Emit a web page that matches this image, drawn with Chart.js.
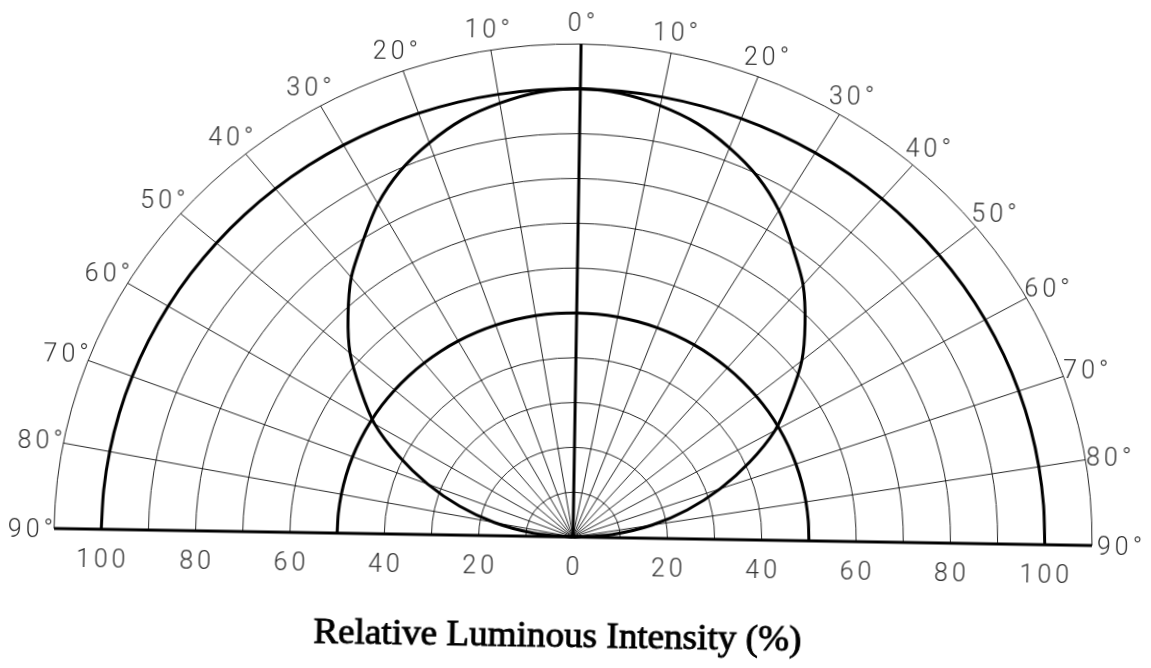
<!DOCTYPE html>
<html>
<head>
<meta charset="utf-8">
<script src="https://cdn.jsdelivr.net/npm/chart.js@4"></script>
<style>
  html, body { margin: 0; padding: 0; background: #fff; overflow: hidden; }
  #wrap { width: 1151px; height: 668px; transform: rotate(0.94deg); transform-origin: 573px 537px; }
</style>
</head>
<body>
<div id="wrap"><canvas id="polar" width="1151" height="668"></canvas></div>
<script>
// angle from the optical axis, degrees (negative = left side)
const angles = [-90, -85, -80, -75, -70, -65, -60, -55, -50, -45, -40, -35, -30, -25, -20, -15, -10, -5,
  0, 5, 10, 15, 20, 25, 30, 35, 40, 45, 50, 55, 60, 65, 70, 75, 80, 85, 90];

// relative luminous intensity (%)
const wideIntensity = [100, 100, 100, 100, 100, 100, 100, 100, 100, 100, 100, 100, 100, 100, 100, 100, 100, 100,
  100, 100, 100, 100, 100, 100, 100, 100, 100, 100, 100, 100, 100, 100, 100, 100, 100, 100, 100];
const halfIntensity = [50, 50, 50, 50, 50, 50, 50, 50, 50, 50, 50, 50, 50, 50, 50, 50, 50, 50,
  50, 50, 50, 50, 50, 50, 50, 50, 50, 50, 50, 50, 50, 50, 50, 50, 50, 50, 50];
const narrowIntensity = [0, 8.5, 17, 25, 33, 41, 49, 55.5, 62.5, 68.5, 74.5, 79.5, 85, 89.5, 93, 96, 98, 99.5,
  100, 99.5, 98, 96, 93, 89.5, 85, 79.5, 74.5, 68.5, 62.5, 55.5, 49, 41, 33, 25, 17, 8.5, 0];

// grid
const rings = [10, 20, 30, 40, 50, 60, 70, 80, 90, 100, 110];
const spokes = [-80, -70, -60, -50, -40, -30, -20, -10, 10, 20, 30, 40, 50, 60, 70, 80];
const gridMax = 110;

// labels
const angleTicks = [-90, -80, -70, -60, -50, -40, -30, -20, -10, 0, 10, 20, 30, 40, 50, 60, 70, 80, 90];
const intensityTicks = [-100, -80, -60, -40, -20, 0, 20, 40, 60, 80, 100];
const axisTitle = 'Relative Luminous Intensity (%)';

const rad = d => d * Math.PI / 180;
const toXY = (vals) => angles.map((a, i) => ({ x: vals[i] * Math.sin(rad(a)), y: vals[i] * Math.cos(rad(a)) }));

const lineSet = (vals) => ({
  data: toXY(vals),
  showLine: true,
  borderColor: '#000',
  borderWidth: 3,
  pointRadius: 0,
  tension: 0.3,
  clip: false
});

const polarGrid = {
  id: 'polarGrid',
  beforeDatasetsDraw(chart) {
    const { ctx, scales: { x, y } } = chart;
    const cx = x.getPixelForValue(0), cy = y.getPixelForValue(0);
    const px = (r, a) => [x.getPixelForValue(r * Math.sin(rad(a))), y.getPixelForValue(r * Math.cos(rad(a)))];
    ctx.save();
    ctx.strokeStyle = '#000';
    ctx.lineWidth = 0.85;
    rings.forEach(r => {
      ctx.beginPath();
      ctx.ellipse(cx, cy, Math.abs(x.getPixelForValue(r) - cx), Math.abs(cy - y.getPixelForValue(r)), 0, Math.PI, 2 * Math.PI);
      ctx.stroke();
    });
    spokes.forEach(a => {
      const [ex, ey] = px(gridMax, a);
      ctx.beginPath();
      ctx.moveTo(cx, cy);
      ctx.lineTo(ex, ey);
      ctx.stroke();
    });
    // axes: 0° line and 90° baseline
    ctx.lineWidth = 3;
    ctx.beginPath();
    ctx.moveTo(cx, cy);
    ctx.lineTo(cx, y.getPixelForValue(gridMax));
    ctx.moveTo(x.getPixelForValue(-gridMax), cy);
    ctx.lineTo(x.getPixelForValue(gridMax), cy);
    ctx.stroke();
    ctx.restore();
  },
  afterDraw(chart) {
    const { ctx, scales: { x, y } } = chart;
    const cy = y.getPixelForValue(0);
    ctx.save();
    ctx.fillStyle = '#333';
    ctx.font = '300 25px Roboto, sans-serif';
    ctx.letterSpacing = '4px';
    ctx.textAlign = 'center';
    ctx.textBaseline = 'middle';
    angleTicks.forEach(a => {
      const r = 115;
      const dx = Math.abs(a) === 90 ? (a > 0 ? 6 : 2) : 2;
      ctx.fillText(Math.abs(a) + '°', x.getPixelForValue(r * Math.sin(rad(a))) + dx, y.getPixelForValue(r * Math.cos(rad(a))) + 3);
    });
    intensityTicks.forEach(v => {
      ctx.fillText(String(Math.abs(v)), x.getPixelForValue(v) + 2, cy + 32);
    });
    // axis title, stretched to the width of the original lettering
    ctx.letterSpacing = '0px';
    ctx.fillStyle = '#000';
    ctx.strokeStyle = '#000';
    ctx.lineWidth = 0.9;
    ctx.font = '35px "Liberation Serif", serif';
    ctx.textBaseline = 'alphabetic';
    const sx = 488 / ctx.measureText(axisTitle).width;
    ctx.translate(559, 647);
    ctx.scale(sx, 1);
    ctx.fillText(axisTitle, 0, 0);
    ctx.strokeText(axisTitle, 0, 0);
    ctx.restore();
  }
};

new Chart(document.getElementById('polar'), {
  type: 'scatter',
  data: {
    datasets: [lineSet(wideIntensity), lineSet(halfIntensity), lineSet(narrowIntensity)]
  },
  options: {
    responsive: false,
    animation: false,
    layout: { padding: { left: 54, right: 59, top: 44, bottom: 131 } },
    scales: {
      x: { type: 'linear', min: -gridMax, max: gridMax, display: false },
      y: { type: 'linear', min: 0, max: gridMax, display: false }
    },
    plugins: {
      legend: { display: false },
      tooltip: { enabled: false }
    }
  },
  plugins: [polarGrid]
});
</script>
</body>
</html>
